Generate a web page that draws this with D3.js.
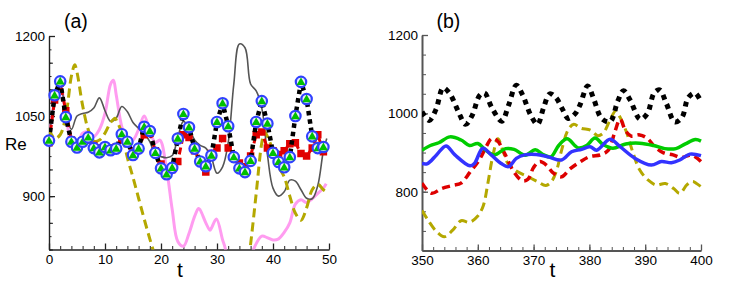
<!DOCTYPE html>
<html>
<head>
<meta charset="utf-8">
<script src="https://cdn.jsdelivr.net/npm/d3@7"></script>
<style>
  body { margin: 0; background: #fff; }
  text { font-family: "Liberation Sans", Arial, sans-serif; }
</style>
</head>
<body>
<svg id="chart" width="747" height="284"></svg>
<script>
// ---- panel (a) data : [t, Re] ----
const markerA = [[0,1004],[1,1089],[2,1115],[3,1048],[4,1002],[5,991],[6,1002],[7,1010],[8,990],[9,982],
  [10,992],[11,986],[12,989],[13,1016],[14,1002],[15,977],[16,989],[17,1030],[18,1022],[19,981],
  [20,952],[21,941],[22,953],[23,1008],[24,1054],[25,1029],[26,989],[27,965],[28,956],[29,976],
  [30,1039],[31,1074],[32,1031],[33,973],[34,952],[35,945],[36,966],[37,1039],[38,1078],[39,1036],
  [40,981],[41,964],[42,954],[43,973],[44,1050],[45,1114],[46,1082],[47,1012],[48,990],[49,992]];
const redA = [[0,1000],[1,1080],[2,1112],[3,1060],[4,1005],[5,995],[6,1000],[7,1005],[8,995],[9,990],
  [10,988],[11,990],[12,992],[13,1005],[14,1000],[15,985],[16,990],[17,1015],[18,1018],[19,985],
  [20,960],[21,948],[22,950],[23,965],[24,1015],[25,1010],[26,985],[27,965],[28,945],[29,980],
  [30,990],[31,1008],[32,990],[33,975],[34,962],[35,955],[36,975],[37,1015],[38,1020],[39,990],
  [40,985],[41,978],[42,985],[43,998],[44,1000],[45,980],[46,975],[47,990],[48,1015],[49,983]];
const grayA = [[0,1004],[1,1078],[2,1108],[3,1058],[4,1025],[5,1050],[6,1055],[7,1057],[8,1065],[9,1084],
  [10,1060],[11,1040],[12,1046],[13,1068],[14,1058],[15,1038],[16,1027],[17,1018],[18,1002],[19,978],
  [20,974],[21,972],[22,976],[23,1010],[24,1040],[25,1028],[26,1005],[27,995],[28,990],[29,972],
  [30,943],[31,955],[32,1000],[33,1110],[34,1185],[35,1178],[36,1110],[37,1097],[38,1065],[39,978],
  [40,915],[41,900],[42,908],[43,930],[44,928],[45,912],[46,896],[47,895],[48,920],[49,985],[49.6,1008]];
const pinkA = [[0,1002],[1,1078],[2,1108],[3,1052],[4,1003],[5,998],[6,1018],[7,1020],[8,1012],[9,1025],
  [10,1055],[11,1110],[11.5,1117],[12,1090],[13,1030],[14,1003],[15,1005],[16,1025],[17,1050],[18,1022],
  [19,1000],[19.8,1005],[21,950],[22,875],[23,815],[24,806],[25,830],[26,862],[26.7,877],[27,874],
  [28,850],[28.75,836],[29,840],[29.9,857],[31,818],[31.4,805],[32,780],[33,760],null,
  [35.5,765],[36.5,800],[38,825],[39,822],[40,818],[41,820],[42,832],[43,850],[44,885],[45,893],
  [46,888],[47,895],[48,905],[49,915],[49.5,923]];
const oliveA = [[0,1025],[1,1008],[2,1015],[3,1050],[4,1125],[4.6,1146],[5,1132],[6,1070],[7,1025],[8,1003],
  [9,1005],[10,1018],[11,1038],[11.8,1046],[12,1043],[13,1018],[14,972],[15,935],[16,896],[17,857],
  [18,820],[19,785],[20,750],null,[35,730],[36,810],[37,905],[38,1000],[38.5,1020],[39,1012],
  [40,985],[41,955],[42,936],[43,900],[44,868],[45,855],[46,878],[47,912],[48,922],[49,912],[50,905]];

// ---- panel (b) data : [t, Re] ----
const blackB = [[350,1004],[351.3,982],[352.5,1010],[353.8,1065],[355,1050],[356.5,1005],[357.8,972],[359,995],
  [360.3,1045],[361.2,1052],[362.5,1015],[364.3,980],[365.5,1020],[366.9,1072],[368,1048],[369.5,995],
  [370.7,972],[371.8,1015],[372.9,1050],[374,1040],[375.2,1010],[376.2,987],[377.5,1000],[378.3,1021],
  [379.7,1070],[380.7,1040],[382.2,987],[383.7,979],[385.1,1032],[386.1,1058],[387.3,1034],[389.1,985],
  [390.4,1000],[391.6,1052],[392.6,1060],[393.8,1025],[395.3,978],[396.6,990],[397.7,1040],[398.9,1052],[400,1030]];
const greenB = [[350,906],[351.5,918],[353,925],[355,940],[357,932],[358.5,918],[360,923],[361.5,905],
  [363,894],[365,910],[366.5,908],[368.5,893],[370.3,907],[371.7,895],[373.1,889],[374.5,918],[376,935],
  [378,912],[379.5,918],[381,937],[382.5,920],[384.2,911],[386.5,922],[389,924],[391.5,918],[393.5,910],
  [395.5,910],[397.2,922],[399,933],[400,929]];
const blueB = [[350,872],[351,872],[352.6,894],[354.3,917],[355.9,894],[358.6,866],[359.4,872],[360.9,911],
  [362.4,894],[364.2,872],[365.5,864],[366.9,885],[368.4,894],[370.5,895],[372.6,889],[375,881],
  [376.8,902],[378.6,908],[380.1,915],[381.3,906],[383.7,934],[385.5,915],[388.2,885],[391.1,868],
  [392.9,877],[394.7,874],[396.2,881],[398,896],[400,892]];
const redB = [[350,822],[351.7,796],[353.5,808],[355.5,816],[357,822],[358.6,850],[360.3,882],[361.5,915],
  [362.5,936],[363.5,930],[364.8,898],[366.5,850],[368,828],[369,832],[370,862],[371.1,877],[372.3,868],
  [373.5,848],[375,838],[376.5,858],[378.3,876],[380.1,890],[382,894],[383.4,906],[384.5,950],[385.5,985],
  [386.5,955],[387.5,942],[389,945],[390.4,936],[391.7,915],[393.2,900],[395,894],[396.5,887],[398.3,894],[400,877]];
const oliveB = [[350,752],[351.2,725],[352.5,700],[354,685],[355.5,702],[357,726],[358.5,722],[360,738],
  [361,765],[361.8,821],[362.7,892],[363.6,935],[364.5,905],[365.4,872],[367,852],[369,838],[370.7,826],
  [372.2,816],[373.3,828],[374.2,858],[375,905],[376.2,958],[377.2,972],[378.5,962],[380.2,957],[381.5,943],
  [382.5,950],[383.7,983],[384.7,1006],[385.5,990],[386.7,950],[387.8,900],[389,856],[390.5,830],[392,817],
  [393.6,821],[395.1,808],[396.2,796],[397.5,818],[398.5,826],[399.2,821],[400,813]];

// tick values
const xTicksA = [0, 10, 20, 30, 40, 50];
const yTicksA = [900, 1050, 1200];
const xTicksB = [350, 360, 370, 380, 390, 400];
const yTicksB = [800, 1000, 1200];

const svg = d3.select("#chart");
const fs = 13.5;

function panel(opt) {
  const x = d3.scaleLinear().domain(opt.xd).range(opt.xr);
  const y = d3.scaleLinear().domain(opt.yd).range(opt.yr);
  const g = svg.append("g");

  const clipId = "clip" + opt.name;
  svg.append("clipPath").attr("id", clipId).append("rect")
    .attr("x", opt.xr[0]).attr("y", opt.yr[1] - 6)
    .attr("width", opt.xr[1] - opt.xr[0] + 2).attr("height", opt.yr[0] - opt.yr[1] + 6);

  // minor ticks
  const minorX = d3.range(opt.xd[0], opt.xd[1] + 0.01, 2);
  g.append("g").attr("transform", `translate(0,${opt.yr[0]})`)
    .call(d3.axisBottom(x).tickValues(minorX).tickFormat("").tickSize(-3.5).tickSizeOuter(0))
    .call(s => s.select(".domain").remove())
    .selectAll("line").attr("stroke", opt.axisColor).attr("stroke-width", 1);
  opt.yMinor.forEach(m => {
    g.append("g").attr("transform", `translate(${opt.xr[0]},0)`)
      .call(d3.axisLeft(y).tickValues(d3.range(opt.yd[0], opt.yd[1] + 0.01, m.step)).tickFormat("").tickSize(-m.len).tickSizeOuter(0))
      .call(s => s.select(".domain").remove())
      .selectAll("line").attr("stroke", opt.axisColor).attr("stroke-width", 1);
  });

  // major axes
  const ax = g.append("g").attr("transform", `translate(0,${opt.yr[0]})`)
    .call(d3.axisBottom(x).tickValues(opt.xt).tickFormat(d3.format("d")).tickSize(-6).tickSizeOuter(0).tickPadding(6));
  const ay = g.append("g").attr("transform", `translate(${opt.xr[0]},0)`)
    .call(d3.axisLeft(y).tickValues(opt.yt).tickFormat(d3.format("d")).tickSize(-6).tickSizeOuter(0).tickPadding(4));
  [ax, ay].forEach(a => {
    a.attr("font-size", fs).attr("font-family", '"Liberation Sans", Arial, sans-serif');
    a.selectAll("text").attr("fill", "#000");
    a.selectAll("line").attr("stroke", opt.axisColor).attr("stroke-width", 1.3);
    a.select(".domain").attr("stroke", opt.axisColor).attr("stroke-width", opt.axisWidth);
  });
  ax.selectAll("text").attr("dy", "0.62em");

  // panel title and axis title
  svg.append("text").attr("x", opt.titleX).attr("y", 27.5)
    .attr("font-size", 19.5).text(opt.title);
  svg.append("text").attr("x", (opt.xr[0] + opt.xr[1]) / 2 - 9).attr("y", 277)
    .attr("text-anchor", "middle").attr("font-size", 21).text("t");

  const plot = svg.append("g").attr("clip-path", `url(#${clipId})`);
  return { x, y, plot };
}

function drawLine(p, data, style, curve) {
  const line = d3.line()
    .defined(d => d != null)
    .x(d => p.x(d[0])).y(d => p.y(d[1]))
    .curve(curve || d3.curveCatmullRom.alpha(0.5));
  p.plot.append("path").datum(data)
    .attr("d", line)
    .attr("fill", "none")
    .attr("stroke", style.color)
    .attr("stroke-width", style.width)
    .attr("stroke-dasharray", style.dash || null)
    .attr("stroke-linejoin", "round");
}

// ---- panel (a) ----
const pa = panel({
  name: "a", xd: [0, 50], xr: [49, 329], yd: [800, 1200], yr: [249.5, 36],
  xt: xTicksA, yt: yTicksA, yMinor: [{ step: 25, len: 2.5 }, { step: 50, len: 4 }],
  axisColor: "#222", axisWidth: 1.4, title: "(a)", titleX: 64
});
drawLine(pa, pinkA, { color: "#ff9cf0", width: 3 });
drawLine(pa, grayA, { color: "#555", width: 1.6 });
drawLine(pa, oliveA, { color: "#b4a800", width: 3, dash: "9,5" });
drawLine(pa, redA, { color: "#e00000", width: 3, dash: "7,4" }, d3.curveLinear);
pa.plot.append("g").selectAll("path").data(redA).join("path")
  .attr("transform", d => `translate(${pa.x(d[0])},${pa.y(d[1])})`)
  .attr("d", d3.symbol(d3.symbolSquare, 56))
  .attr("fill", "#e00000");
drawLine(pa, markerA, { color: "#000", width: 4.5, dash: "4.5,4" }, d3.curveLinear);
const mk = svg.append("g").selectAll("g").data(markerA).join("g")
  .attr("transform", d => `translate(${pa.x(d[0])},${pa.y(d[1])})`);
mk.append("circle").attr("r", 5.2).attr("fill", "#e8ecff")
  .attr("stroke", "#3040ff").attr("stroke-width", 2.2);
mk.append("path").attr("d", d3.symbol(d3.symbolTriangle, 34)).attr("transform", "translate(0,0.6)")
  .attr("fill", "#00c000");

svg.append("text").attr("x", 5).attr("y", 150).attr("font-size", 17).text("Re");

// ---- panel (b) ----
const pb = panel({
  name: "b", xd: [350, 400], xr: [422, 701], yd: [650, 1200], yr: [250.5, 35],
  xt: xTicksB, yt: yTicksB, yMinor: [{ step: 50, len: 4 }],
  axisColor: "#555", axisWidth: 2, title: "(b)", titleX: 436.5
});
drawLine(pb, oliveB, { color: "#b4a800", width: 3, dash: "9,5" });
drawLine(pb, redB, { color: "#dd0000", width: 3.5, dash: "8,5" });
drawLine(pb, greenB, { color: "#00cc00", width: 3.5 });
drawLine(pb, blueB, { color: "#3333ff", width: 3.5 });
drawLine(pb, blackB, { color: "#000", width: 5, dash: "5,5" });
</script>
</body>
</html>
